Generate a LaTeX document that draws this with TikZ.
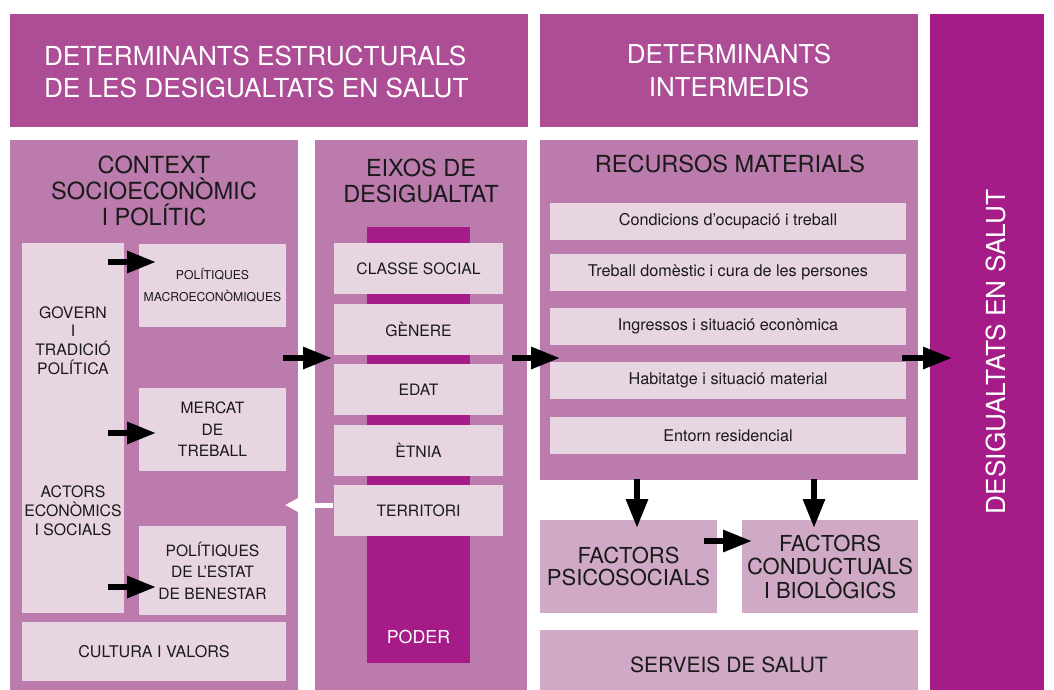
\documentclass[tikz,border=0pt]{standalone}
\usepackage{fontspec}
\setmainfont{TeX Gyre Heros}
\usetikzlibrary{arrows.meta,calc}
\definecolor{hdr}{HTML}{AD4D95}
\definecolor{dark}{HTML}{A51C89}
\definecolor{mauve}{HTML}{BB7CAD}
\definecolor{light}{HTML}{E7D5E2}
\definecolor{fact}{HTML}{D0A9C6}
\definecolor{ink}{HTML}{1A1A1A}
\newcommand{\fs}[2]{\fontsize{#1}{#2}\selectfont}
\begin{document}
\begin{tikzpicture}[x=1pt,y=-1pt,
  box/.style={rectangle, inner sep=0pt, outer sep=0pt, anchor=north west, align=center, text=ink},
  txt/.style={inner sep=0pt, outer sep=0pt, align=center, text=ink},
  barrow/.style={line width=6pt, -{Triangle[length=29pt,width=21pt]}, black},
  warrow/.style={line width=5pt, -{Triangle[length=13pt,width=13pt]}, white}]
\clip (0,0) rectangle (1054,690);
\fill[white] (0,0) rectangle (1054,690);

% headers
\node[box, fill=hdr, minimum width=518pt, minimum height=113pt] (h1) at (10,14) {};
\node[txt, anchor=west, align=left, text=white, font=\fs{26.2}{32}] (h1t) at (44,71.5)
  {DETERMINANTS ESTRUCTURALS\\DE LES DESIGUALTATS EN SALUT};
\node[box, fill=hdr, minimum width=378pt, minimum height=113pt, text=white, font=\fs{26}{32.5}] (h2) at (540,14)
  {DETERMINANTS\\INTERMEDIS};

% right column
\node[box, fill=dark, minimum width=114pt, minimum height=690pt] (rc) at (930,14) {};
\node[txt, rotate=90, anchor=base, text=white, font=\fs{26.2}{30}] (rct) at (1005.5,352) {DESIGUALTATS EN SALUT};

% context
\node[box, fill=mauve, minimum width=288pt, minimum height=560pt] (ctx) at (10,140) {};
\node[txt, font=\fs{23.6}{26}] (ctxt) at (154,191) {CONTEXT\\SOCIOECONÒMIC\\I POLÍTIC};
\node[box, fill=light, minimum width=102pt, minimum height=370pt] (gov) at (22,243) {};
\node[txt, font=\fs{15.8}{18.8}] (govt) at (73,340.5) {GOVERN\\I\\TRADICIÓ\\POLÍTICA};
\node[txt, font=\fs{15.8}{18.8}] (act) at (73,511) {ACTORS\\ECONÒMICS\\I SOCIALS};
\node[box, fill=light, minimum width=147pt, minimum height=83pt, font=\fs{12.2}{22}] (macro) at (139,244)
  {POLÍTIQUES\\MACROECONÒMIQUES};
\node[box, fill=light, minimum width=147pt, minimum height=83pt, font=\fs{15.6}{21.5}] (mercat) at (139,388)
  {MERCAT\\DE\\TREBALL};
\node[box, fill=light, minimum width=147pt, minimum height=89pt, font=\fs{15.6}{21.5}] (estat) at (139,526)
  {POLÍTIQUES\\DE L’ESTAT\\DE BENESTAR};
\node[box, fill=light, minimum width=264pt, minimum height=59pt, font=\fs{16.1}{18}] (cult) at (22,622)
  {CULTURA I VALORS};

% eixos
\node[box, fill=mauve, minimum width=212pt, minimum height=560pt] (eix) at (315,140) {};
\node[txt, font=\fs{23.5}{26}] (eixt) at (421,181) {EIXOS DE\\DESIGUALTAT};
\node[box, fill=dark, minimum width=103pt, minimum height=436pt] (bar) at (367,227) {};
\node[txt, anchor=base, text=white, font=\fs{17.8}{20}] (poder) at (418.5,643) {PODER};
\node[box, fill=light, minimum width=169pt, minimum height=51pt, font=\fs{15.7}{18}] (cls) at (334,243) {CLASSE SOCIAL};
\node[box, fill=light, minimum width=169pt, minimum height=51pt, font=\fs{15.7}{18}] (gen) at (334,304) {GÈNERE};
\node[box, fill=light, minimum width=169pt, minimum height=51pt, font=\fs{15.7}{18}] (edat) at (334,364) {EDAT};
\node[box, fill=light, minimum width=169pt, minimum height=51pt, font=\fs{15.7}{18}] (etn) at (334,425) {ÈTNIA};
\node[box, fill=light, minimum width=169pt, minimum height=51pt, font=\fs{15.7}{18}] (terr) at (334,485) {TERRITORI};

% recursos
\node[box, fill=mauve, minimum width=378pt, minimum height=340pt] (rec) at (540,140) {};
\node[txt, font=\fs{23.5}{26}] (rect) at (730,163.5) {RECURSOS MATERIALS};
\node[box, fill=light, minimum width=356pt, minimum height=37pt, font=\fs{16.2}{18}] (r1) at (550,203) {Condicions d’ocupació i treball};
\node[box, fill=light, minimum width=356pt, minimum height=37pt, font=\fs{16.2}{18}] (r2) at (550,254) {Treball domèstic i cura de les persones};
\node[box, fill=light, minimum width=356pt, minimum height=37pt, font=\fs{16.2}{18}] (r3) at (550,308) {Ingressos i situació econòmica};
\node[box, fill=light, minimum width=356pt, minimum height=37pt, font=\fs{16.2}{18}] (r4) at (550,362) {Habitatge i situació material};
\node[box, fill=light, minimum width=356pt, minimum height=37pt, font=\fs{16.2}{18}] (r5) at (550,417) {Entorn residencial};

% factors and services
\node[box, fill=fact, minimum width=177pt, minimum height=93pt, font=\fs{22}{22.5}] (psi) at (540,520) {FACTORS\\PSICOSOCIALS};
\node[box, fill=fact, minimum width=176pt, minimum height=93pt, font=\fs{22}{23.5}] (con) at (742,520) {FACTORS\\CONDUCTUALS\\I BIOLÒGICS};
\node[box, fill=fact, minimum width=378pt, minimum height=70pt, font=\fs{21}{24}] (serv) at (540,630) {SERVEIS DE SALUT};

% arrows
\draw[barrow] ($(gov.east |- macro.north)+(-16,18)$) -- ($(macro.north west)+(17,18)$);
\draw[barrow] ($(gov.east |- mercat.west)+(-16,3.5)$) -- ($(mercat.west)+(17,3.5)$);
\draw[barrow] ($(gov.east |- estat.south)+(-16,-28)$) -- ($(estat.south west)+(17,-28)$);
\draw[barrow] ($(ctx.east |- gen.south)+(-15,3)$) -- ($(eix.west |- gen.south)+(17,3)$);
\draw[barrow] ($(eix.east |- gen.south)+(-15,3)$) -- ($(rec.west |- gen.south)+(20,3)$);
\draw[barrow] ($(rec.east |- gen.south)+(-16,3)$) -- ($(rc.west |- gen.south)+(22,3)$);
\draw[warrow] ($(terr.west)+(-1,-5.5)$) -- ($(ctx.east |- terr.west)+(-13,-5.5)$);
\draw[barrow] ($(rec.south -| psi.north)+(8.5,-1)$) -- ($(psi.north)+(8.5,8)$);
\draw[barrow] ($(rec.south -| con.north)+(-16,-1)$) -- ($(con.north)+(-16,8)$);
\draw[barrow] ($(psi.north east)+(-13,21)$) -- ($(con.north west)+(10,21)$);
\end{tikzpicture}
\end{document}
